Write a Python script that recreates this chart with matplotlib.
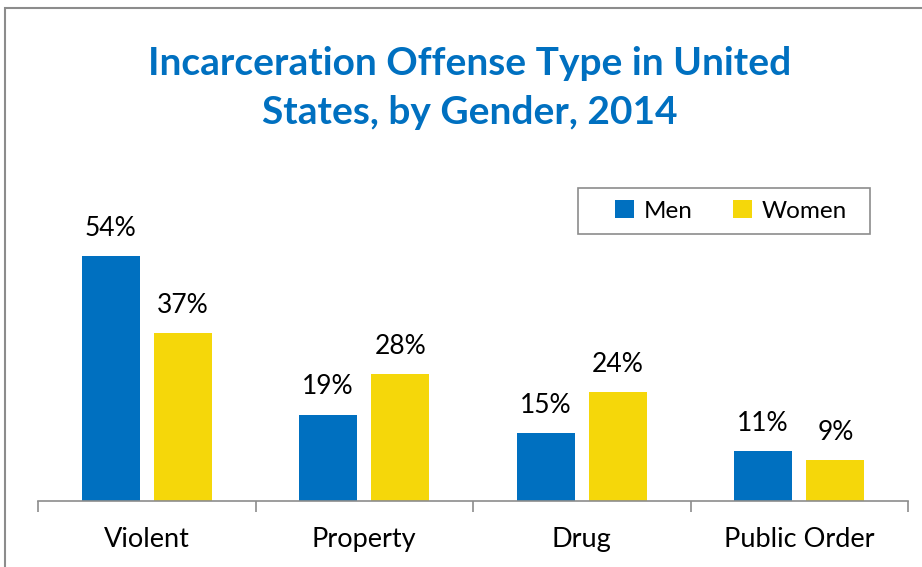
import numpy as np
import matplotlib.pyplot as plt
from matplotlib.patches import Rectangle

plt.rcParams["font.family"] = ["Lato", "DejaVu Sans"]

# data
categories = ["Violent", "Property", "Drug", "Public Order"]
men = [54, 19, 15, 11]
women = [37, 28, 24, 9]
series_names = ["Men", "Women"]

BLUE = "#0070C0"
YELLOW = "#F5D70A"
GRAY = "#8c8c8c"

W, H = 922, 567
fig = plt.figure(figsize=(W / 100, H / 100), dpi=100)

## outer frame (only top and left edges are visible in the crop)
fig.patches.append(Rectangle((5 / W, -0.01), 1.0, (H - 8) / H + 0.01, transform=fig.transFigure,
                             fill=False, edgecolor=GRAY, linewidth=1.5))

ax = fig.add_axes([38 / W, 66 / H, 870 / W, 272.4 / H])

x = np.arange(len(categories))
bw = 0.267
off = 0.166
b1 = ax.bar(x - off, men, bw, color=BLUE, label=series_names[0])
b2 = ax.bar(x + off, women, bw, color=YELLOW, label=series_names[1])

for bars, vals in ((b1, men), (b2, women)):
    for r, v in zip(bars, vals):
        ax.annotate("{}%".format(v), (r.get_x() + r.get_width() / 2, v),
                    xytext=(0, 11), textcoords="offset points",
                    ha="center", va="bottom", fontsize=19, color="black")

ax.set_xlim(-0.5, len(categories) - 0.5)
ax.set_ylim(0, 60)
for s in ("top", "right", "left"):
    ax.spines[s].set_visible(False)
ax.spines["bottom"].set_color(GRAY)
ax.spines["bottom"].set_linewidth(1.2)
ax.set_yticks([])

ax.set_xticks(np.arange(len(categories) + 1) - 0.5)
ax.set_xticklabels([])
ax.tick_params(axis="x", which="major", length=8, color=GRAY, width=1.2)
ax.set_xticks(x, minor=True)
ax.set_xticklabels(categories, minor=True, fontsize=19.5)
ax.tick_params(axis="x", which="minor", length=0, pad=19)

fig.text(470 / W, 1 - 88 / H, "Incarceration Offense Type in United\nStates, by Gender, 2014",
         ha="center", va="center", fontsize=28, fontweight="bold", color=BLUE,
         linespacing=1.45)

## legend box drawn separately so its padding can match the original
fig.patches.append(Rectangle((578 / W, 1 - 234 / H), 292 / W, 46 / H, transform=fig.transFigure,
                             fill=False, edgecolor=GRAY, linewidth=1.2))
leg = fig.legend(loc="center", bbox_to_anchor=(731 / W, 1 - 211 / H), ncol=2,
                 fontsize=17.5, frameon=False,
                 handlelength=0.75, handleheight=0.75, columnspacing=1.7,
                 borderpad=0, handletextpad=0.4, borderaxespad=0)

fig.savefig("out.png", dpi=100)
